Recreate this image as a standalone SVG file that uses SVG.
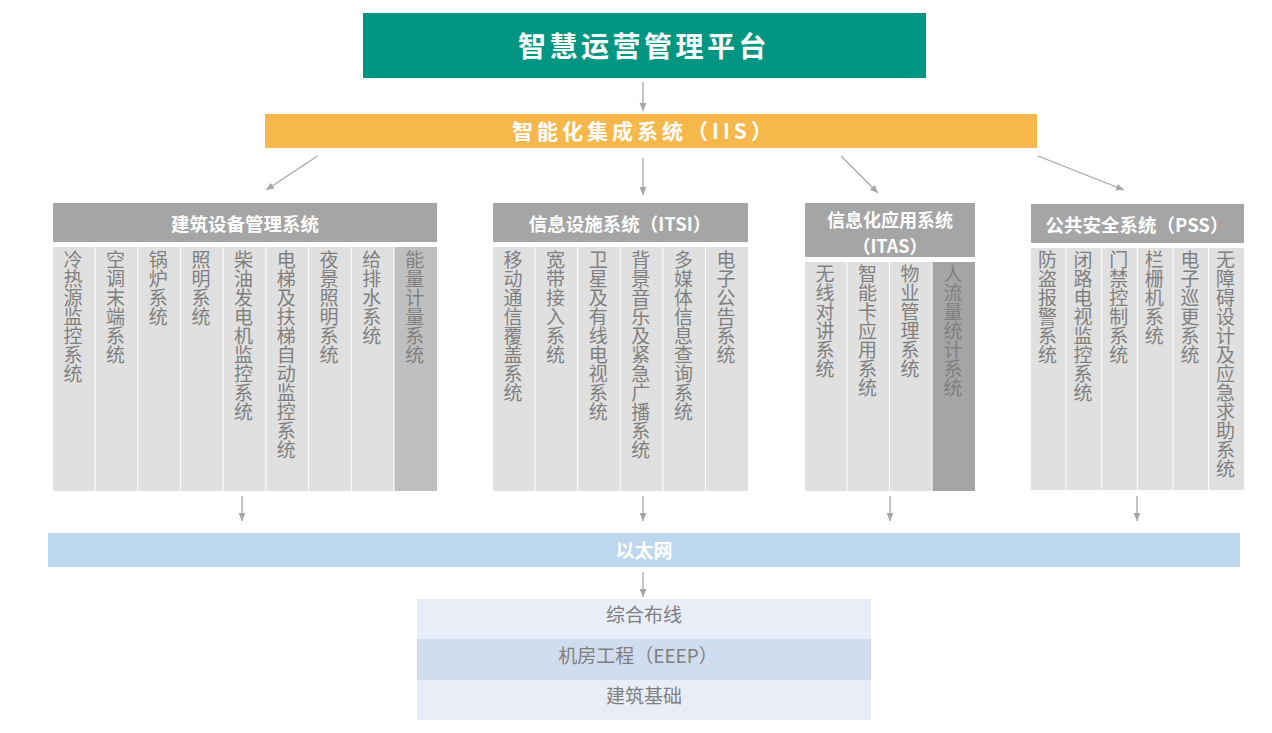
<svg xmlns="http://www.w3.org/2000/svg" width="1272" height="733" viewBox="0 0 1272 733">
<style>
text{font-family:"Noto Sans CJK SC","Microsoft YaHei",sans-serif}
.hdr{fill:#A5A5A5}
.col{fill:#E0E0E0}
.hl{fill:#BFBFBF}
.hd{fill:#A5A5A5}
.ht{fill:#fff;font-size:18.5px;font-weight:bold;text-anchor:middle}
.vt{fill:#7F7F7F;font-size:19px;writing-mode:vertical-rl;text-anchor:start}
.bt{fill:#7F7F7F;font-size:19px;text-anchor:middle}
.conn line{stroke:#A6A6A6;stroke-width:1.3;fill:none}
</style>
<defs>
<marker id="ah" markerWidth="9" markerHeight="8" refX="8" refY="3.5" orient="auto" markerUnits="userSpaceOnUse">
<path d="M0,0 L8,3.5 L0,7 z" fill="#A6A6A6"/>
</marker>
</defs>
<rect width="1272" height="733" fill="#fff"/>

<g id="platform">
<rect x="363" y="13" width="563" height="65" fill="#009682"/>
<text x="644" y="57" fill="#fff" font-size="28" font-weight="bold" text-anchor="middle" letter-spacing="3.5">智慧运营管理平台</text>
</g>

<g id="iis">
<rect x="265" y="114" width="772" height="34" fill="#F7B84B"/>
<text x="644" y="139" fill="#fff" font-size="21" font-weight="bold" text-anchor="middle" letter-spacing="4">智能化集成系统（IIS）</text>
</g>

<g id="bas">
<rect class="hdr" x="53" y="203" width="384" height="39"/>
<text class="ht" x="245" y="231">建筑设备管理系统</text>
<rect class="col" x="53" y="247" width="41.6" height="244"/>
<rect class="col" x="95.7" y="247" width="41.6" height="244"/>
<rect class="col" x="138.4" y="247" width="41.6" height="244"/>
<rect class="col" x="181.1" y="247" width="41.6" height="244"/>
<rect class="col" x="223.8" y="247" width="41.6" height="244"/>
<rect class="col" x="266.5" y="247" width="41.6" height="244"/>
<rect class="col" x="309.2" y="247" width="41.6" height="244"/>
<rect class="col" x="351.9" y="247" width="41.6" height="244"/>
<rect class="hl" x="394.6" y="247" width="42.4" height="244"/>
<text class="vt" x="73" y="250">冷热源监控系统</text>
<text class="vt" x="115.5" y="250">空调末端系统</text>
<text class="vt" x="158.2" y="250">锅炉系统</text>
<text class="vt" x="200.9" y="250">照明系统</text>
<text class="vt" x="243.6" y="250">柴油发电机监控系统</text>
<text class="vt" x="286.3" y="250">电梯及扶梯自动监控系统</text>
<text class="vt" x="329" y="250">夜景照明系统</text>
<text class="vt" x="371.7" y="250">给排水系统</text>
<text class="vt" x="414.8" y="250">能量计量系统</text>
</g>

<g id="itsi">
<rect class="hdr" x="493" y="203" width="255" height="39"/>
<text class="ht" x="620" y="231">信息设施系统（ITSI）</text>
<rect class="col" x="493" y="247" width="41.6" height="244"/>
<rect class="col" x="535.6" y="247" width="41.6" height="244"/>
<rect class="col" x="578.2" y="247" width="41.6" height="244"/>
<rect class="col" x="620.8" y="247" width="41.6" height="244"/>
<rect class="col" x="663.4" y="247" width="41.6" height="244"/>
<rect class="col" x="706" y="247" width="42" height="244"/>
<text class="vt" x="513" y="250">移动通信覆盖系统</text>
<text class="vt" x="555.6" y="250">宽带接入系统</text>
<text class="vt" x="598.2" y="250">卫星及有线电视系统</text>
<text class="vt" x="640.8" y="250">背景音乐及紧急广播系统</text>
<text class="vt" x="683.4" y="250">多媒体信息查询系统</text>
<text class="vt" x="726" y="250">电子公告系统</text>
</g>

<g id="itas">
<rect class="hdr" x="805" y="203" width="170" height="54"/>
<text class="ht" x="890" y="226.5" style="font-size:18px">信息化应用系统</text>
<text class="ht" x="890" y="252.5" style="font-size:18px">（ITAS）</text>
<rect class="col" x="805" y="262" width="41.5" height="229"/>
<rect class="col" x="847.5" y="262" width="41.5" height="229"/>
<rect class="col" x="890" y="262" width="41.5" height="229"/>
<rect class="hd" x="932.5" y="262" width="42.5" height="229"/>
<text class="vt" x="825" y="264">无线对讲系统</text>
<text class="vt" x="867.5" y="264">智能卡应用系统</text>
<text class="vt" x="910" y="264">物业管理系统</text>
<text class="vt" x="953" y="264">人流量统计系统</text>
</g>

<g id="pss">
<rect class="hdr" x="1031" y="204" width="213" height="39"/>
<text class="ht" x="1137" y="232">公共安全系统（PSS）</text>
<rect class="col" x="1031" y="248" width="34.6" height="242"/>
<rect class="col" x="1066.6" y="248" width="34.6" height="242"/>
<rect class="col" x="1102.2" y="248" width="34.6" height="242"/>
<rect class="col" x="1137.8" y="248" width="34.6" height="242"/>
<rect class="col" x="1173.4" y="248" width="34.6" height="242"/>
<rect class="col" x="1209" y="248" width="35" height="242"/>
<text class="vt" x="1047.5" y="250">防盗报警系统</text>
<text class="vt" x="1083.1" y="250">闭路电视监控系统</text>
<text class="vt" x="1118.7" y="250">门禁控制系统</text>
<text class="vt" x="1154.3" y="250">栏栅机系统</text>
<text class="vt" x="1189.9" y="250">电子巡更系统</text>
<text class="vt" x="1225.5" y="250">无障碍设计及应急求助系统</text>
</g>

<g id="ethernet">
<rect x="48" y="533" width="1192" height="34" fill="#BDD7EE"/>
<text x="644" y="558" fill="#fff" font-size="19" font-weight="bold" text-anchor="middle">以太网</text>
</g>

<g id="infra">
<rect x="417" y="599" width="454" height="40" fill="#E9EDF7"/>
<rect x="417" y="639" width="454" height="41" fill="#D1DDEF"/>
<rect x="417" y="680" width="454" height="40" fill="#E9EDF7"/>
<text class="bt" x="644" y="622">综合布线</text>
<text class="bt" x="638" y="663">机房工程（EEEP）</text>
<text class="bt" x="644" y="703">建筑基础</text>
</g>

<g class="conn" id="connectors">
<line x1="643" y1="82" x2="643" y2="111" marker-end="url(#ah)"/>
<line x1="317.5" y1="156" x2="266" y2="190" marker-end="url(#ah)"/>
<line x1="643" y1="158" x2="643" y2="195" marker-end="url(#ah)"/>
<line x1="841" y1="156" x2="878" y2="193" marker-end="url(#ah)"/>
<line x1="1038" y1="156" x2="1124" y2="190" marker-end="url(#ah)"/>
<line x1="242" y1="496" x2="242" y2="521" marker-end="url(#ah)"/>
<line x1="643" y1="496" x2="643" y2="521" marker-end="url(#ah)"/>
<line x1="890" y1="496" x2="890" y2="521" marker-end="url(#ah)"/>
<line x1="1137" y1="496" x2="1137" y2="521" marker-end="url(#ah)"/>
<line x1="643" y1="572" x2="643" y2="597" marker-end="url(#ah)"/>
</g>
</svg>
